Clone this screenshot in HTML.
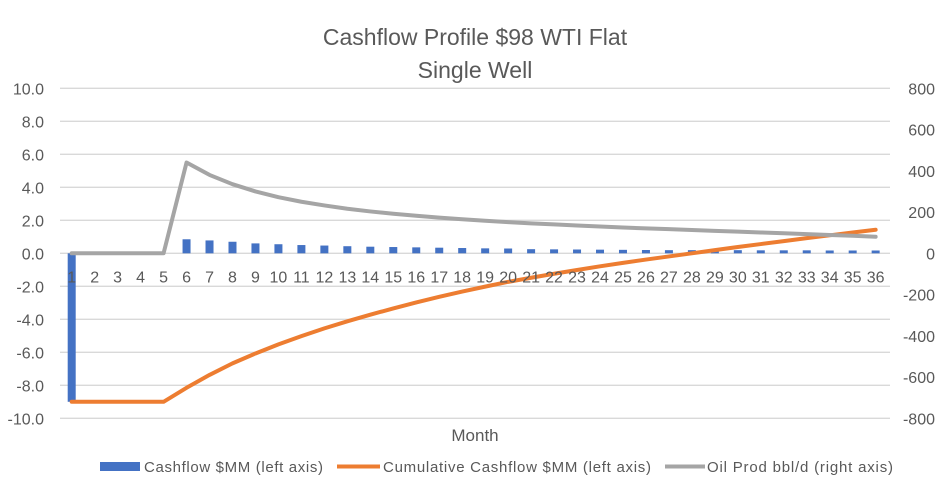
<!DOCTYPE html>
<html><head><meta charset="utf-8"><style>
body{margin:0;background:#fff;}
svg text{font-family:"Liberation Sans",sans-serif;fill:#595959;}
</style></head><body>
<svg id="s" width="949" height="493" xmlns="http://www.w3.org/2000/svg">
<rect width="949" height="493" fill="#fff"/>
<text x="475" y="45" font-size="23" text-anchor="middle">Cashflow Profile $98 WTI Flat</text>
<text x="475" y="78" font-size="23" text-anchor="middle">Single Well</text>
<g id="grid"></g>
<g id="bars"></g>
<g id="lines"></g>
<g id="xl"></g>
<text x="475" y="441" font-size="17" text-anchor="middle">Month</text>
<rect x="100" y="462" width="40" height="9" fill="#4472C4"/>
<text x="144" y="472" font-size="15" textLength="179">Cashflow $MM (left axis)</text>
<line x1="337" y1="466.5" x2="380" y2="466.5" stroke="#ED7D31" stroke-width="4"/>
<text x="383" y="472" font-size="15" textLength="268">Cumulative Cashflow $MM (left axis)</text>
<line x1="665" y1="466.5" x2="705" y2="466.5" stroke="#A5A5A5" stroke-width="4"/>
<text x="707" y="472" font-size="15" textLength="186">Oil Prod bbl/d (right axis)</text>
</svg>
<script>
var NS="http://www.w3.org/2000/svg";
function el(p,t,a,txt){var e=document.createElementNS(NS,t);for(var k in a)e.setAttribute(k,a[k]);if(txt!=null)e.textContent=txt;document.querySelector(p).appendChild(e);return e;}
var y0=253.3,pu=16.5,x0=71.7,dx=22.97,rp=16.5/80;
function Y(v){return y0-v*pu;}function YR(v){return y0-v*rp;}function X(i){return x0+(i-1)*dx;}
for(var v=-10;v<=10;v+=2){el('#grid','line',{x1:60,x2:890,y1:Y(v),y2:Y(v),stroke:'#D9D9D9','stroke-width':1.3});
el('#grid','text',{x:44,y:Y(v)+6,'font-size':16,'text-anchor':'end'},v.toFixed(1));}
for(var r=-800;r<=800;r+=200){el('#grid','text',{x:935,y:YR(r)+6,'font-size':16,'text-anchor':'end'},String(r));}
var bars=[-9,0,0,0,0,0.85,0.78,0.7,0.6,0.55,0.5,0.47,0.43,0.4,0.38,0.36,0.34,0.32,0.3,0.29,0.25,0.24,0.23,0.22,0.21,0.2,0.19,0.19,0.19,0.19,0.18,0.18,0.18,0.17,0.17,0.17];
var oil=[0,0,0,0,0,440,380,335,300,272,250,232,216,203,192,182,173,165,158,151,145,140,135,130,125,121,117,113,109,105,101,97,93,89,85,80];
var c=0,pc=[],po=[];
for(var i=0;i<36;i++){c+=bars[i];
var b=bars[i],x=X(i+1);
el('#bars','rect',{x:x-4,y:Math.min(Y(b),y0),width:8,height:Math.abs(Y(b)-y0),fill:'#4472C4'});
pc.push(x+','+Y(c));po.push(x+','+YR(oil[i]));
el('#xl','text',{x:x,y:y0+29,'font-size':16,'text-anchor':'middle'},String(i+1));}
el('#lines','polyline',{points:pc.join(' '),fill:'none',stroke:'#ED7D31','stroke-width':4,'stroke-linejoin':'round','stroke-linecap':'round'});
el('#lines','polyline',{points:po.join(' '),fill:'none',stroke:'#A5A5A5','stroke-width':4,'stroke-linejoin':'round','stroke-linecap':'round'});
</script>
</body></html>
